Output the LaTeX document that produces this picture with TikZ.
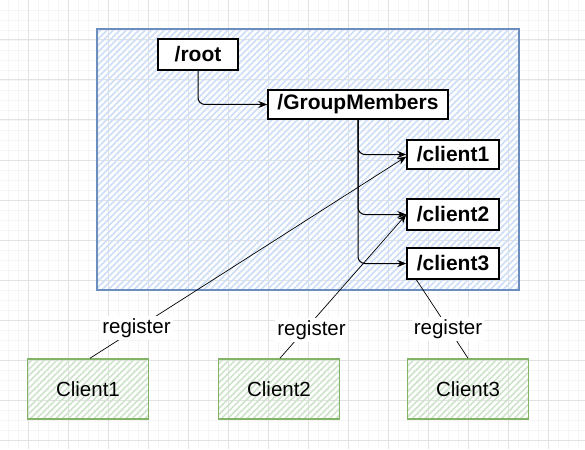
\documentclass[tikz,border=0pt]{standalone}
\usepackage{fontspec}
\setmainfont{Liberation Sans}
\usetikzlibrary{patterns.meta,arrows.meta}
\definecolor{gridmajor}{HTML}{E2E2E2}
\definecolor{gridminor}{HTML}{F5F5F5}
\definecolor{bluestroke}{HTML}{6C8EBF}
\definecolor{bluehatch}{HTML}{CCDDF8}
\definecolor{greenstroke}{HTML}{82B366}
\definecolor{greenhatch}{HTML}{CCE3C9}
\begin{document}
\begin{tikzpicture}[x=1pt,y=-1pt,
  container/.style={draw=bluestroke,line width=1.8pt,pattern={Lines[angle=45,distance=4.5pt,line width=1.6pt]},pattern color=bluehatch,minimum width=422pt,minimum height=261pt,inner sep=0pt},
  pathbox/.style={draw=black,line width=1.4pt,fill=white,minimum width=#1,minimum height=30pt,inner sep=0pt,font=\fontsize{21}{24}\selectfont\bfseries},
  clientbox/.style={draw=greenstroke,line width=1.6pt,pattern={Lines[angle=45,distance=4.5pt,line width=1.5pt]},pattern color=greenhatch,minimum width=121pt,minimum height=60pt,inner sep=0pt,font=\fontsize{20.5}{24}\selectfont},
  conn/.style={line width=1pt,-{Stealth[length=9pt,width=7pt]},rounded corners=7pt},
  reg/.style={line width=0.7pt},
  regarrow/.style={reg,-{Stealth[length=9pt,width=7pt]}},
  lbl/.style={fill=white,inner sep=2pt,font=\fontsize{20.5}{24}\selectfont}]
\useasboundingbox (0,0) rectangle (585,449);
\fill[white] (0,0) rectangle (585,449);
% grid
\foreach \x in {8,18,...,578} \draw[gridminor,line width=0.8pt] (\x,0) -- (\x,449);
\foreach \y in {10,20,...,440} \draw[gridminor,line width=0.8pt] (0,\y) -- (585,\y);
\foreach \x in {28,68,...,578} \draw[gridmajor,line width=1pt] (\x,0) -- (\x,449);
\foreach \y in {40,80,...,440} \draw[gridmajor,line width=1pt] (0,\y) -- (585,\y);
% container
\node[container] (box) at (308,159.5) {};
% nodes
\node[pathbox=80pt,minimum height=31pt] (root) at (198,54.5) {/root};
\node[pathbox=180pt,minimum height=29pt] (gm) at (358,104.5) {/GroupMembers};
\node[pathbox=92pt,minimum height=29pt] (c1) at (453,154.5) {/client1};
\node[pathbox=92pt,minimum height=31pt] (c2) at (453,214.5) {/client2};
\node[pathbox=92pt,minimum height=31pt] (c3) at (453,263.5) {/client3};
% clients
\node[clientbox] (k1) at (88,389) {Client1};
\node[clientbox] (k2) at (279,389) {Client2};
\node[clientbox] (k3) at (468,389) {Client3};
% tree connectors
\draw[conn] (root.south) |- (gm.west);
\draw[conn] (gm.south) |- (c1.west);
\draw[conn] (gm.south) |- (c2.west);
\draw[conn] (gm.south) |- (c3.west);
% register connectors
\draw[regarrow] ([xshift=2pt]k1.north) -- ([yshift=-2pt]c1.west);
\draw[regarrow] ([xshift=1pt]k2.north) -- (c2.west);
\draw[reg] (k3.north) -- ([xshift=10pt]c3.south west);
\node[lbl] (r1) at (136.5,328) {register};
\node[lbl] (r2) at (311.5,330) {register};
\node[lbl] (r3) at (448,329) {register};
\end{tikzpicture}
\end{document}
